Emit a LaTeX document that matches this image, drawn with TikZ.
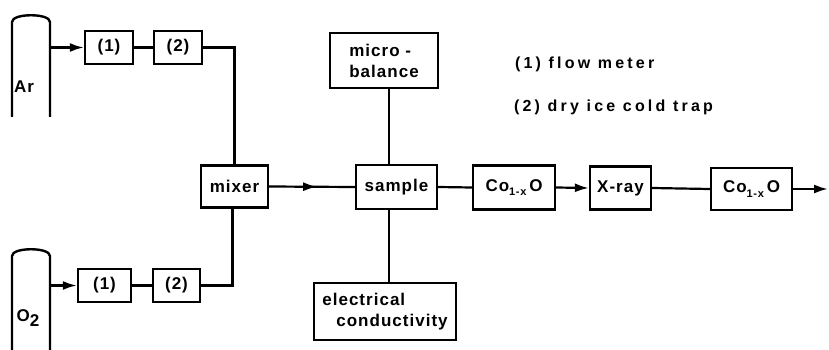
\documentclass[tikz,border=0pt]{standalone}
\usepackage{fontspec}
\setmainfont{Liberation Sans}
\newfontfamily\lbl{Liberation Sans Bold}[LetterSpace=6]
\newfontfamily\lgd{Liberation Sans Bold}[LetterSpace=20]
\usetikzlibrary{arrows.meta,decorations.markings}
\newcommand{\cosub}{Co\raisebox{-0.5ex}{\fontsize{11}{11}\selectfont 1-x}\,O}
\begin{document}
\begin{tikzpicture}[x=1pt,y=-1pt,
  line width=2.2pt,
  tip/.style={-{Latex[length=14pt,width=9pt]}},
  box/.style={draw,line width=2.4pt,inner sep=0pt,font=\lbl\fontsize{17}{21}\selectfont},
  txt/.style={inner sep=0pt,font=\lbl\fontsize{17}{21}\selectfont},
  legend/.style={inner sep=0pt,anchor=west,font=\lgd\fontsize{16}{18}\selectfont},
  midarrow/.style={postaction={decorate},decoration={markings,mark=at position 0.56 with {\arrow{Latex[length=14pt,width=9pt]}}}}
]
\useasboundingbox (0,0) rectangle (829,350);

% cylinders
\coordinate (arR) at (50,47.5);
\coordinate (oxR) at (50,285.5);
\draw[line width=2.4pt] (12,117) -- (12,22) .. controls (12,13) and (50,13) .. (50,22) -- (50,117);
\draw[line width=2.4pt] (12,352) -- (12,256) .. controls (12,247) and (50,247) .. (50,256) -- (50,352);
\node[txt] (ar) at (24,87) {Ar};
\node[txt] (ox) at (28,318) {O\raisebox{-0.6ex}{2}};

% boxes
\node[box,minimum width=48pt,minimum height=33pt] (m1a) at (109,47.5) {(1)};
\node[box,minimum width=48pt,minimum height=33pt] (m2a) at (178,47.5) {(2)};
\node[box,minimum width=53pt,minimum height=33pt] (m1b) at (104.5,285.5) {(1)};
\node[box,minimum width=47pt,minimum height=33pt] (m2b) at (176.5,285.5) {(2)};
\node[box,minimum width=67pt,minimum height=42pt] (mixer) at (234.5,186.5) {mixer};
\node[box,minimum width=81pt,minimum height=44pt] (sample) at (396.5,187) {sample};
\node[box,minimum width=108pt,minimum height=55pt,align=left] (micro) at (384,60.5) {micro -\\balance};
\node[box,minimum width=142pt,minimum height=57pt,align=left] (elec) at (385,311.5) {electrical\\\hspace*{14pt}conductivity};
\node[box,minimum width=82pt,minimum height=44pt] (co1) at (514,187.5) {\cosub};
\node[box,minimum width=61pt,minimum height=43pt] (xray) at (620.5,188) {X-ray};
\node[box,minimum width=81pt,minimum height=42pt] (co2) at (751.5,189) {\cosub};
\coordinate (out) at (828,189);
\coordinate (vx) at (389,0);

% legend
\node[legend] (l1) at (514,64) {(1) flow meter};
\node[legend] (l2) at (513,107) {(2) dry ice cold trap};

% connectors
\draw[tip] (arR) -- (m1a.west);
\draw (m1a.east) -- (m2a.west);
\draw (m2a.east) -| (mixer.north);
\draw[tip] (oxR) -- (m1b.west);
\draw (m1b.east) -- (m2b.west);
\draw (m2b.east) -| ([xshift=-2pt]mixer.south);
\draw[midarrow] (mixer.east) -- (sample.west);
\draw (micro.south -| vx) -- (sample.north -| vx);
\draw (sample.south -| vx) -- (elec.north -| vx);
\draw (sample.east) -- (co1.west);
\draw[tip] (co1.east) -- (xray.west);
\draw (xray.east) -- (co2.west);
\draw[tip] (co2.east) -- (out);
\end{tikzpicture}
\end{document}
